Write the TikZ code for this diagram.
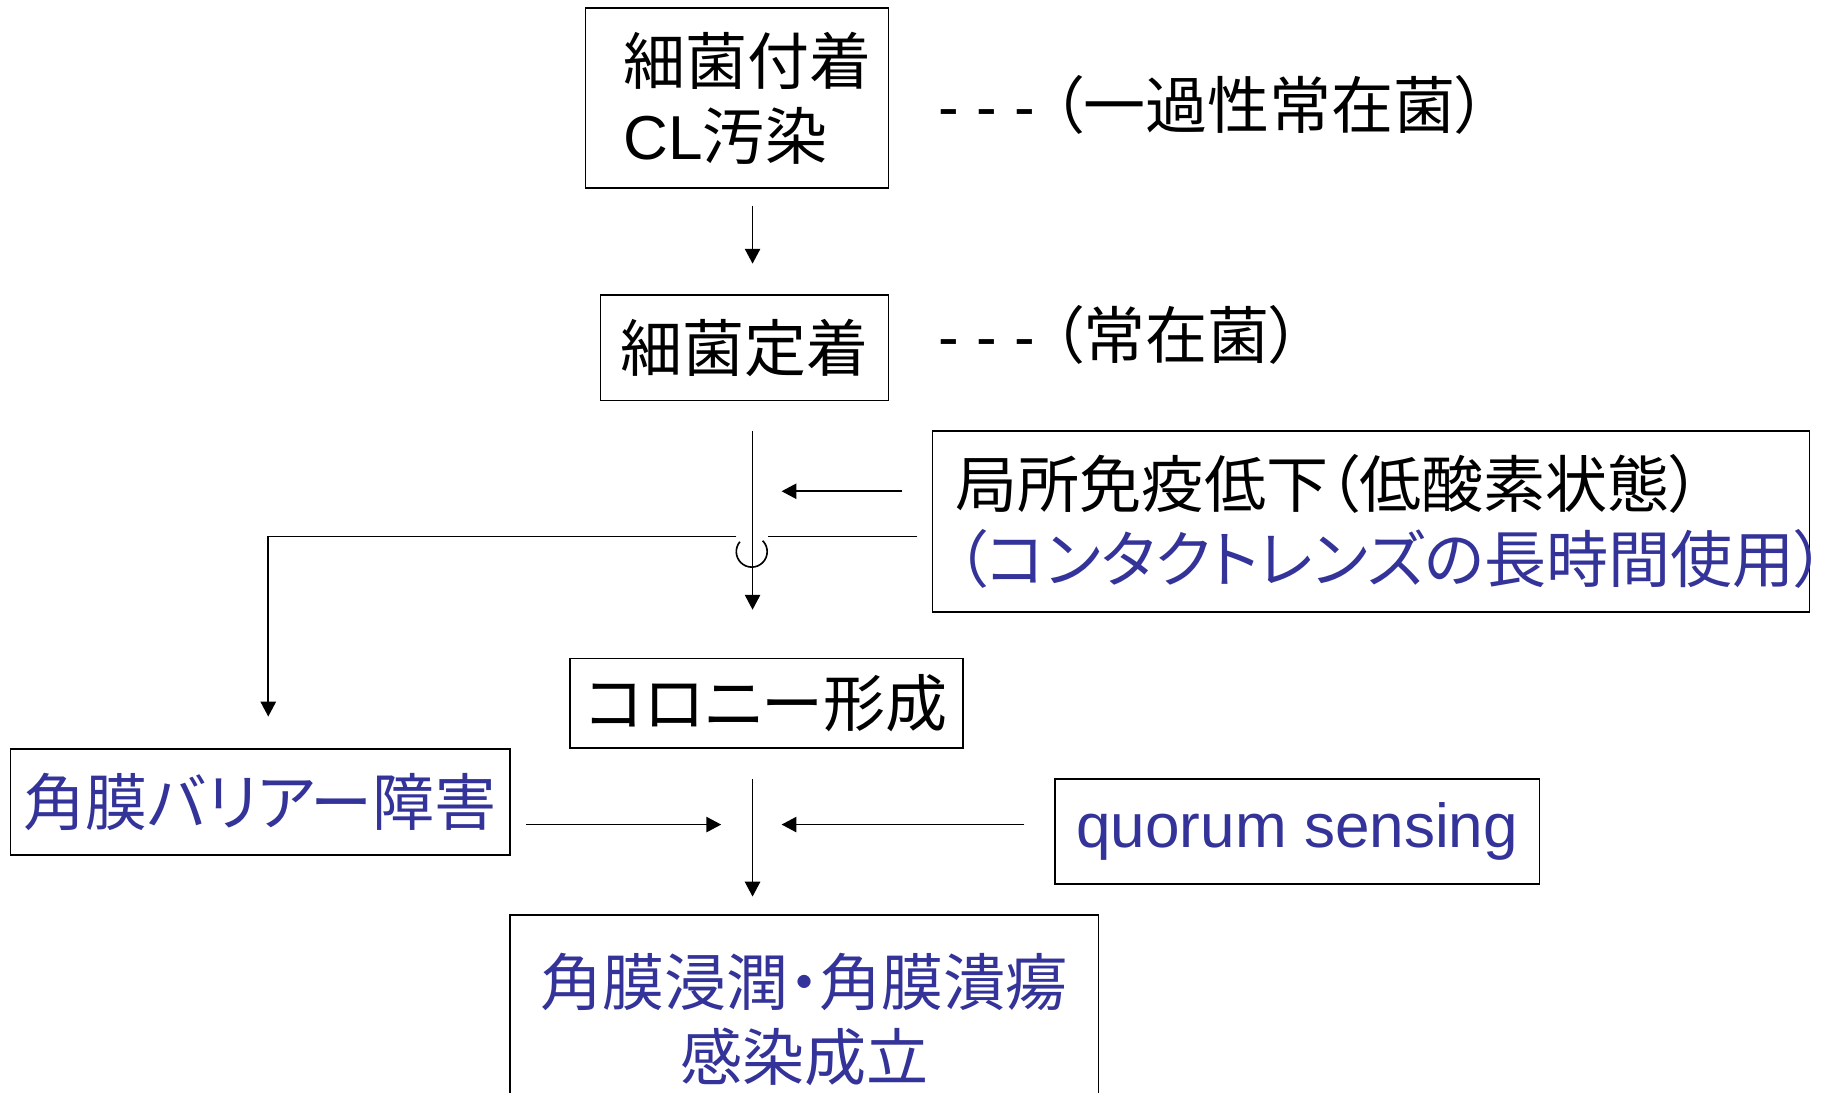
\documentclass[tikz,border=0pt]{standalone}
\usepackage{fontspec}
\setmainfont{Noto Sans CJK JP}[RawFeature=+palt]
\newfontfamily\latinfont{Liberation Sans}
\usetikzlibrary{arrows.meta}

\definecolor{kblue}{RGB}{51,51,153}
\newlength\pxu
\setlength\pxu{0.025cm}

\tikzset{
  stepbox/.style={draw, line width=1pt, inner sep=0pt, align=center},
  arr/.style={line width=1pt, -{Triangle[length=3.2mm,width=3.3mm]}},
  plain/.style={line width=1pt},
}

\begin{document}
\begin{tikzpicture}[x=0.025cm, y=-0.025cm, font=\fontsize{38}{46}\selectfont]
  \useasboundingbox (0,0) rectangle (1568,941);
  \clip (0,0) rectangle (1568,941);

  % boxes
  \node[stepbox, align=left, text width=195\pxu,
    minimum width=261\pxu, minimum height=155\pxu]
    (attach) at (634.5,84.5) {細菌付着\\{\latinfont CL}汚染};
  \node[stepbox, minimum width=248\pxu, minimum height=91\pxu]
    (settle) at (641,299.5) {細菌定着};
  \node[stepbox, align=left, text width=715\pxu,
    minimum width=755\pxu, minimum height=156\pxu]
    (immune) at (1180.5,449) {局所免疫低下（低酸素状態）\\\textcolor{kblue}{（コンタクトレンズの長時間使用）}};
  \node[stepbox, minimum width=338\pxu, minimum height=77\pxu]
    (colony) at (660,605.5) {コロニー形成};
  \node[stepbox, text=kblue, minimum width=430\pxu, minimum height=91\pxu]
    (barrier) at (224,690.5) {角膜バリアー障害};
  \node[stepbox, text=kblue, minimum width=417\pxu, minimum height=90\pxu]
    (quorum) at (1117,716) {\latinfont quorum sensing};
  \node[stepbox, text=kblue, minimum width=507\pxu, minimum height=180\pxu]
    (ulcer) at (692.5,878) {角膜浸潤・角膜潰瘍\\感染成立};

  % side notes
  \node[anchor=west, inner sep=0pt] (transient) at (808,90)
    {{\latinfont - - - }（一過性常在菌）};
  \node[anchor=west, inner sep=0pt] (resident) at (808,288)
    {{\latinfont - - - }（常在菌）};

  \coordinate (a1) at (648,177);
  \coordinate (a2) at (648,227);
  \coordinate (m1) at (648,371);
  \coordinate (m2) at (648,525);
  \coordinate (s1) at (777,423);
  \coordinate (s2) at (673,423);
  \coordinate (b0) at (790,462);
  \coordinate (hopR) at (661,462);
  \coordinate (hopL) at (634,462);
  \coordinate (hopA) at (656.7,465.6);
  \coordinate (bc) at (231,462);
  \coordinate (bend) at (231,617);
  \coordinate (c1) at (648,671);
  \coordinate (c2) at (648,772);
  \coordinate (l1) at (453,710);
  \coordinate (l2) at (621,710);
  \coordinate (r1) at (882,710);
  \coordinate (r2) at (673,710);

  \draw[arr] (a1) -- (a2);
  \draw[arr] (m1) -- (m2);
  \draw[arr] (s1) -- (s2);
  % line jump over the main flow
  \draw[plain] (b0) -- (hopR);
  \draw[plain] (hopA) arc[start angle=45, end angle=-220, radius=13.3\pxu];
  \draw[arr] (hopL) -- (bc) -- (bend);
  \draw[arr] (c1) -- (c2);
  \draw[arr] (l1) -- (l2);
  \draw[arr] (r1) -- (r2);
\end{tikzpicture}
\end{document}
